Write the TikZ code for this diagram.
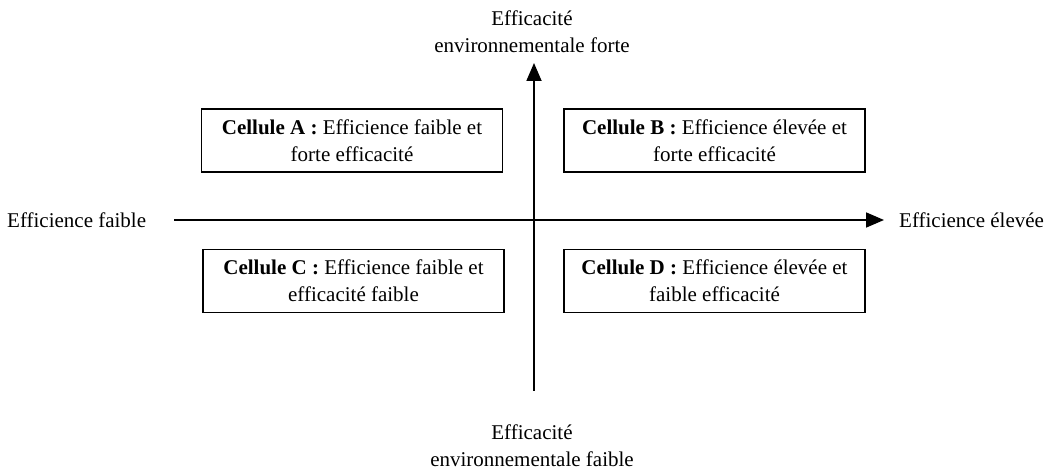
\documentclass[tikz,border=0pt]{standalone}
\usepackage{fontspec}
\setmainfont{Liberation Serif}
\usetikzlibrary{arrows.meta}
\begin{document}
\begin{tikzpicture}[x=1pt,y=-1pt,
  every node/.style={font=\fontsize{21}{27}\selectfont, inner sep=0pt},
  cell/.style={draw, line width=1.6pt, minimum width=301pt, minimum height=63pt, align=center, text depth=0pt},
  axis/.style={line width=1.8pt, -{Triangle[length=18pt,width=15pt]}},
  lbl/.style={align=center}]
\useasboundingbox (0,0) rectangle (1053,470);
% axes
\coordinate (hs) at (174,220);
\coordinate (he) at (884,220);
\coordinate (vs) at (534,391);
\coordinate (ve) at (534,63);
\draw[axis] (hs) -- (he);
\draw[axis] (vs) -- (ve);
% boxes
\node[cell] (A) at (352,140.5) {\textbf{Cellule A :} Efficience faible et\\forte efficacité};
\node[cell] (B) at (714.5,140.5) {\textbf{Cellule B :} Efficience élevée et\\forte efficacité};
\node[cell] (C) at (353.5,281) {\textbf{Cellule C :} Efficience faible et\\efficacité faible};
\node[cell] (D) at (714.5,281) {\textbf{Cellule D :} Efficience élevée et\\faible efficacité};
% labels
\node[lbl] (top) at (532,32) {Efficacité\\environnementale forte};
\node[lbl] (bot) at (532,446) {Efficacité\\environnementale faible};
\node[anchor=west] (left) at (7,220) {Efficience faible};
\node[anchor=west] (right) at (899,220) {Efficience élevée};
\end{tikzpicture}
\end{document}
